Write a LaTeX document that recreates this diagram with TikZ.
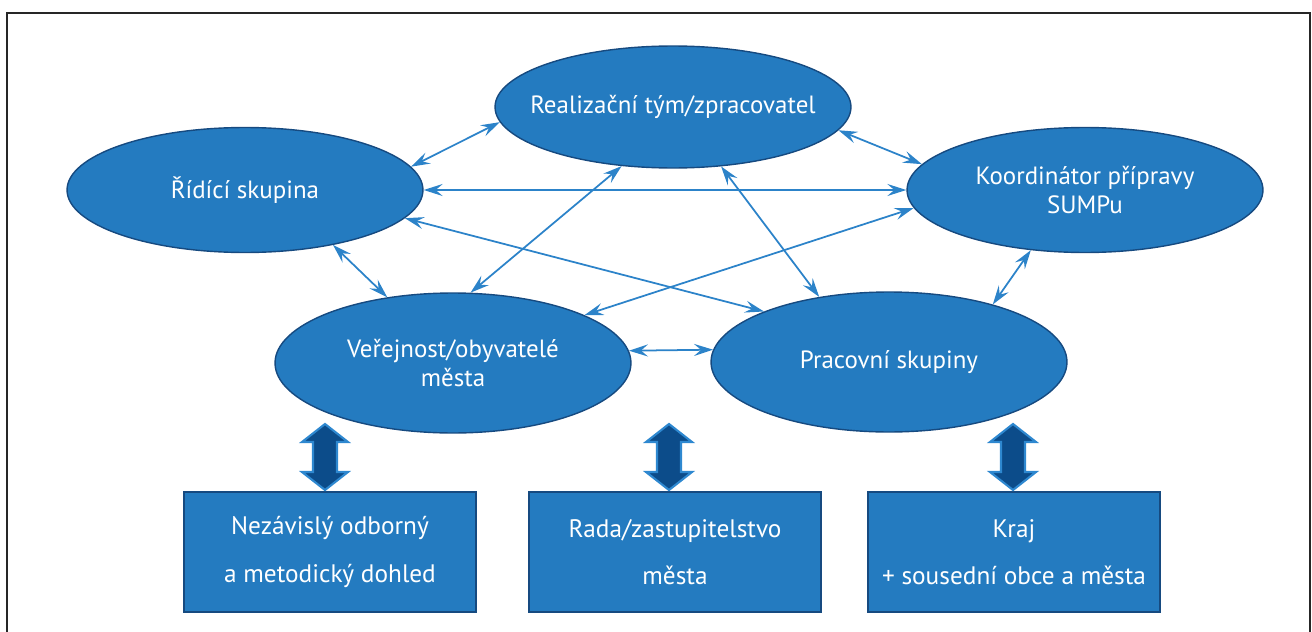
\documentclass[tikz,border=0pt]{standalone}
\usepackage{fontspec}
\setmainfont{PT Sans}
\usetikzlibrary{arrows.meta,shapes.geometric}
\definecolor{ovalblue}{RGB}{36,123,192}
\definecolor{ovaledge}{RGB}{22,74,128}
\definecolor{linkblue}{RGB}{44,131,201}
\definecolor{bignavy}{RGB}{12,76,138}
\definecolor{bigedge}{RGB}{46,136,208}

\begin{document}
\begin{tikzpicture}[x=0.02cm,y=-0.02cm]
\tikzstyle{oval}=[ellipse,draw=ovaledge,fill=ovalblue,line width=0.8pt,minimum width=7.12cm,minimum height=2.5cm,inner sep=0pt]
\tikzstyle{txt}=[text=white,align=center,font=\fontsize{14.2}{17}\selectfont]
\tikzstyle{box}=[rectangle,draw=ovaledge,fill=ovalblue,line width=0.8pt,minimum width=5.84cm,minimum height=2.4cm,text=white,align=center,font=\fontsize{14.4}{27}\selectfont]
\tikzstyle{link}=[{Stealth[length=3.8mm,width=2.4mm,inset=1.4mm]}-{Stealth[length=3.8mm,width=2.4mm,inset=1.4mm]},linkblue,line width=1pt]
\tikzstyle{bigarrow}=[fill=bignavy,draw=bigedge,line width=1.2pt,line join=miter]
\useasboundingbox (0,0) rectangle (1312,632);
% frame
\draw[black!85,line width=0.7pt] (7,632) -- (7,13) -- (1310,13) -- (1310,632);
% ovals
\node [oval,minimum height=2.44cm,label={[txt]center:Realizační tým/zpracovatel}] (real) at (673,107) {};
\node [oval,label={[txt]center:Řídící skupina}] (ridici) at (245,190) {};
\node [oval,label={[txt]center:Koordinátor přípravy\\SUMPu}] (koord) at (1085,190) {};
\node [oval,minimum height=2.8cm,label={[txt]center:Veřejnost/obyvatelé\\města}] (verej) at (453,363) {};
\node [oval,minimum height=2.8cm,label={[txt]center:Pracovní skupiny}] (prac) at (889,362) {};
% boxes
\node [box] (dohled) at (330,552) {Nezávislý odborný\\a metodický dohled};
\node [box] (rada) at (675,552) {Rada/zastupitelstvo\\města};
\node [box] (kraj) at (1014,552) {Kraj\\+ sousední obce a města};
% links between ovals
\draw [link] (ridici.8.8) -- (real.185);
\draw [link] (ridici.0) -- (koord.180);
\draw [link] (ridici.-10.8) -- (prac.158.4);
\draw [link] (ridici.-32.3) -- (verej.135.9);
\draw [link] (real.-8.8) -- (koord.171.1);
\draw [link] (real.-131.3) -- (verej.76.9);
\draw [link] (real.-51.5) -- (prac.137);
\draw [link] (koord.186.5) -- (verej.20);
\draw [link] (koord.-132) -- (prac.29.4);
\draw [link] (verej.4) -- (prac.176);
% block arrows
\foreach \x in {325,669,1013}
  \draw [bigarrow] (\x,424) -- (\x+23,442) -- (\x+12,442) -- (\x+12,472) -- (\x+23,472) -- (\x,490)
    -- (\x-23,472) -- (\x-12,472) -- (\x-12,442) -- (\x-23,442) -- cycle;
\end{tikzpicture}
\end{document}
